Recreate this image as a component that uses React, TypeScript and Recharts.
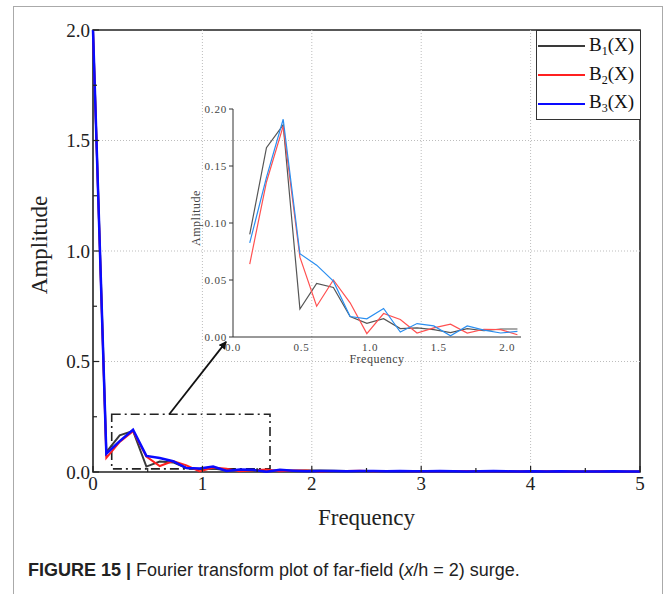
import React from "react";
import {
  LineChart,
  Line,
  XAxis,
  YAxis,
  ReferenceLine,
  ReferenceArea,
  Legend,
} from "recharts";

const SERIF = '"Liberation Serif", "Times New Roman", serif';

// frequency samples (shared by all three spectra)
const frequency = [
  0, 0.122, 0.244, 0.366, 0.488, 0.61, 0.732, 0.854, 0.976, 1.098, 1.22, 1.342,
  1.464, 1.586, 1.708, 1.83, 1.952, 2.074, 2.196, 2.318, 2.44, 2.562, 2.684,
  2.806, 2.928, 3.05, 3.172, 3.294, 3.416, 3.538, 3.66, 3.782, 3.904, 4.026,
  4.148, 4.27, 4.392, 4.514, 4.636, 4.758, 4.88, 5.0,
];

const b1Values = [
  2.0, 0.09, 0.166, 0.186, 0.0245, 0.047, 0.0435, 0.018, 0.012, 0.016, 0.0074,
  0.008, 0.0065, 0.0039, 0.0074, 0.0055, 0.007, 0.007, 0.006, 0.005, 0.004,
  0.005, 0.004, 0.003, 0.004, 0.003, 0.004, 0.003, 0.003, 0.004, 0.003, 0.002,
  0.003, 0.003, 0.002, 0.003, 0.002, 0.002, 0.003, 0.002, 0.002, 0.002,
];

const b2Values = [
  2.0, 0.064, 0.136, 0.185, 0.07, 0.027, 0.05, 0.03, 0.003, 0.0206, 0.0153,
  0.0035, 0.008, 0.0112, 0.0035, 0.0068, 0.0065, 0.002, 0.005, 0.004, 0.006,
  0.003, 0.004, 0.005, 0.003, 0.004, 0.003, 0.004, 0.005, 0.003, 0.003, 0.004,
  0.002, 0.003, 0.003, 0.002, 0.003, 0.002, 0.003, 0.002, 0.002, 0.002,
];

const b3Values = [
  2.0, 0.0825, 0.14, 0.191, 0.073, 0.063, 0.049, 0.018, 0.016, 0.025, 0.0044,
  0.0118, 0.0097, 0.001, 0.0097, 0.006, 0.0035, 0.005, 0.004, 0.003, 0.005,
  0.004, 0.003, 0.004, 0.003, 0.003, 0.004, 0.003, 0.002, 0.003, 0.004, 0.003,
  0.002, 0.003, 0.002, 0.003, 0.002, 0.002, 0.002, 0.003, 0.002, 0.002,
];

const seriesSubs = ["1", "2", "3"];

const mainXTicks = [0, 0.5, 1, 1.5, 2, 2.5, 3, 3.5, 4, 4.5, 5];
const mainYTicks = [0, 0.25, 0.5, 0.75, 1, 1.25, 1.5, 1.75, 2];
const gridX = [1, 2, 3, 4];
const gridY = [0.5, 1, 1.5];

const insetXTicks = [0, 0.5, 1, 1.5, 2];
const insetYTicks = [0, 0.05, 0.1, 0.15, 0.2];
// zoomed window: samples 1..17
const insetFirst = 1;
const insetLast = 17;

// zoom box + arrow annotation (data units)
const zoomBox = { x1: 0.171, x2: 1.618, y1: 0.014, y2: 0.261 };
const arrowSeg = [
  { x: 0.697, y: 0.261 },
  { x: 1.216, y: 0.589 },
];

const mainData = frequency.map((f, i) => ({
  f,
  b1: b1Values[i],
  b2: b2Values[i],
  b3: b3Values[i],
}));
const insetData = mainData.slice(insetFirst, insetLast + 1);

const MainXTick = (props: any) => {
  const { x, y, payload } = props;
  const v = payload.value as number;
  const major = Number.isInteger(v);
  return (
    <g>
      <line x1={x} x2={x} y1={y} y2={y - (major ? 6 : 4)} stroke="#222" strokeWidth={1.2} />
      {major && (
        <text x={x} y={y + 18} textAnchor="middle" fontSize={19} fontFamily={SERIF} fill="#222">
          {v}
        </text>
      )}
    </g>
  );
};

const MainYTick = (props: any) => {
  const { x, y, payload } = props;
  const v = payload.value as number;
  const major = Math.abs(v * 2 - Math.round(v * 2)) < 1e-9;
  return (
    <g>
      <line x1={x} x2={x + (major ? 6 : 4)} y1={y} y2={y} stroke="#222" strokeWidth={1.2} />
      {major && (
        <text x={x - 3} y={y} dy="0.35em" textAnchor="end" fontSize={19} fontFamily={SERIF} fill="#222">
          {v.toFixed(1)}
        </text>
      )}
    </g>
  );
};

const renderLegend = (props: any) => (
  <div
    style={{
      border: "1px solid #333",
      background: "#fff",
      width: 105,
      height: 90,
      boxSizing: "border-box",
      padding: "1px 0 0 1px",
      fontFamily: SERIF,
      fontSize: 19,
      color: "#111",
    }}
  >
    {(props.payload || []).map((entry: any, i: number) => (
      <div key={i} style={{ display: "flex", alignItems: "center", height: 28.7 }}>
        <span
          style={{
            display: "inline-block",
            width: 47,
            borderTop: `2.5px solid ${entry.color}`,
            marginRight: 4,
          }}
        />
        <span style={{ whiteSpace: "nowrap" }}>
          B<sub style={{ fontSize: 12, verticalAlign: "-4px" }}>{seriesSubs[i]}</sub>(X)
        </span>
      </div>
    ))}
  </div>
);

const Arrow = (props: any) => {
  const { x1, y1, x2, y2 } = props;
  return (
    <g>
      <defs>
        <marker id="arrowHead" markerWidth="8" markerHeight="8" refX="7" refY="4" orient="auto" markerUnits="userSpaceOnUse">
          <path d="M0,0 L8,4 L0,8 Z" fill="#111" />
        </marker>
      </defs>
      <line x1={x1} y1={y1} x2={x2} y2={y2} stroke="#111" strokeWidth={1.8} markerEnd="url(#arrowHead)" />
    </g>
  );
};

export default function App() {
  return (
    <div
      style={{
        position: "absolute",
        left: 0,
        top: 0,
        width: 665,
        height: 594,
        overflow: "hidden",
        background: "#fff",
      }}
    >
      <div
        style={{
          position: "absolute",
          left: 13,
          top: 6,
          width: 648,
          height: 620,
          border: "1.5px solid #aaa",
        }}
      />

      <LineChart
        width={665}
        height={594}
        data={mainData}
        margin={{ top: 30, right: 25, bottom: 82, left: 33 }}
        style={{ position: "absolute", left: 0, top: 0 }}
      >
        <XAxis
          dataKey="f"
          type="number"
          domain={[0, 5]}
          ticks={mainXTicks}
          interval={0}
          axisLine={false}
          tickLine={false}
          tickSize={0}
          tickMargin={0}
          tick={<MainXTick />}
          height={40}
          label={{
            content: ({ viewBox }: any) => (
              <text
                x={viewBox.x + viewBox.width / 2}
                y={viewBox.y + 53}
                textAnchor="middle"
                fontSize={23}
                fontFamily={SERIF}
                fill="#222"
              >
                Frequency
              </text>
            ),
          }}
        />
        <YAxis
          type="number"
          domain={[0, 2]}
          ticks={mainYTicks}
          interval={0}
          axisLine={false}
          tickLine={false}
          tickSize={0}
          tickMargin={0}
          tick={<MainYTick />}
          width={60}
          label={{
            content: ({ viewBox }: any) => {
              const cx = viewBox.x + 6;
              const cy = viewBox.y + viewBox.height / 2 - 6;
              return (
                <text
                  x={cx}
                  y={cy}
                  dy="0.35em"
                  transform={`rotate(-90 ${cx} ${cy})`}
                  textAnchor="middle"
                  fontSize={23}
                  fontFamily={SERIF}
                  fill="#222"
                >
                  Amplitude
                </text>
              );
            },
          }}
        />
        {gridX.map((g) => (
          <ReferenceLine key={`gx${g}`} x={g} stroke="#bdbdbd" strokeDasharray="1 2" />
        ))}
        {gridY.map((g) => (
          <ReferenceLine key={`gy${g}`} y={g} stroke="#bdbdbd" strokeDasharray="1 2" />
        ))}
        <ReferenceArea
          x1={zoomBox.x1}
          x2={zoomBox.x2}
          y1={zoomBox.y1}
          y2={zoomBox.y2}
          fill="none"
          stroke="#222"
          strokeWidth={1.6}
          strokeDasharray="9 4 2 4"
        />
        <ReferenceLine segment={arrowSeg} shape={<Arrow />} />
        <Line dataKey="b1" name="B1(X)" stroke="#3a3a3a" strokeWidth={2} dot={false} isAnimationActive={false} />
        <Line dataKey="b2" name="B2(X)" stroke="#ff2020" strokeWidth={2} dot={false} isAnimationActive={false} />
        <Line dataKey="b3" name="B3(X)" stroke="#0a0aff" strokeWidth={2.5} dot={false} isAnimationActive={false} />
        <ReferenceArea x1={0} x2={5} y1={0} y2={2} fill="none" stroke="#222" strokeWidth={1.6} />
        <Legend
          layout="vertical"
          align="center"
          verticalAlign="middle"
          wrapperStyle={{ left: 536, top: 30, width: 105, height: 90 }}
          content={renderLegend}
        />
      </LineChart>

      <LineChart
        width={360}
        height={280}
        data={insetData}
        margin={{ top: 14, right: 19, bottom: 13, left: 8 }}
        style={{ position: "absolute", left: 180, top: 95 }}
      >
        <XAxis
          dataKey="f"
          type="number"
          domain={[0, 2.1]}
          ticks={insetXTicks}
          interval={0}
          allowDataOverflow
          stroke="#333"
          tickLine={false}
          tickMargin={0}
          height={25}
          tick={{ fontSize: 11, fill: "#444", fontFamily: SERIF, letterSpacing: 0.8 }}
          tickFormatter={(v: number) => v.toFixed(1)}
          label={{
            content: ({ viewBox }: any) => (
              <text
                x={viewBox.x + viewBox.width / 2}
                y={viewBox.y + viewBox.height + 1}
                textAnchor="middle"
                fontSize={12}
                fontFamily={SERIF}
                letterSpacing={0.5}
                fill="#444"
              >
                Frequency
              </text>
            ),
          }}
        />
        <YAxis
          type="number"
          domain={[0, 0.2]}
          ticks={insetYTicks}
          interval={0}
          stroke="#333"
          tickSize={4}
          tickMargin={2}
          width={45}
          tick={{ fontSize: 11, fill: "#444", fontFamily: SERIF, letterSpacing: 0.8 }}
          tickFormatter={(v: number) => v.toFixed(2)}
          label={{
            content: ({ viewBox }: any) => {
              const cx = viewBox.x + 8;
              const cy = viewBox.y + viewBox.height / 2 - 5;
              return (
                <text
                  x={cx}
                  y={cy}
                  dy="0.35em"
                  transform={`rotate(-90 ${cx} ${cy})`}
                  textAnchor="middle"
                  fontSize={12}
                  fontFamily={SERIF}
                  letterSpacing={0.5}
                  fill="#444"
                >
                  Amplitude
                </text>
              );
            },
          }}
        />
        <Line dataKey="b1" stroke="#555555" strokeWidth={1.2} dot={false} isAnimationActive={false} />
        <Line dataKey="b2" stroke="#ff5050" strokeWidth={1.2} dot={false} isAnimationActive={false} />
        <Line dataKey="b3" stroke="#2a8ef0" strokeWidth={1.2} dot={false} isAnimationActive={false} />
      </LineChart>

      <div
        style={{
          position: "absolute",
          left: 28,
          top: 560,
          fontFamily: '"Liberation Sans", Arial, sans-serif',
          fontSize: 18,
          color: "#222",
          whiteSpace: "nowrap",
        }}
      >
        <b>FIGURE 15 |</b> Fourier transform plot of far-field (<i>x</i>/h = 2) surge.
      </div>
    </div>
  );
}
